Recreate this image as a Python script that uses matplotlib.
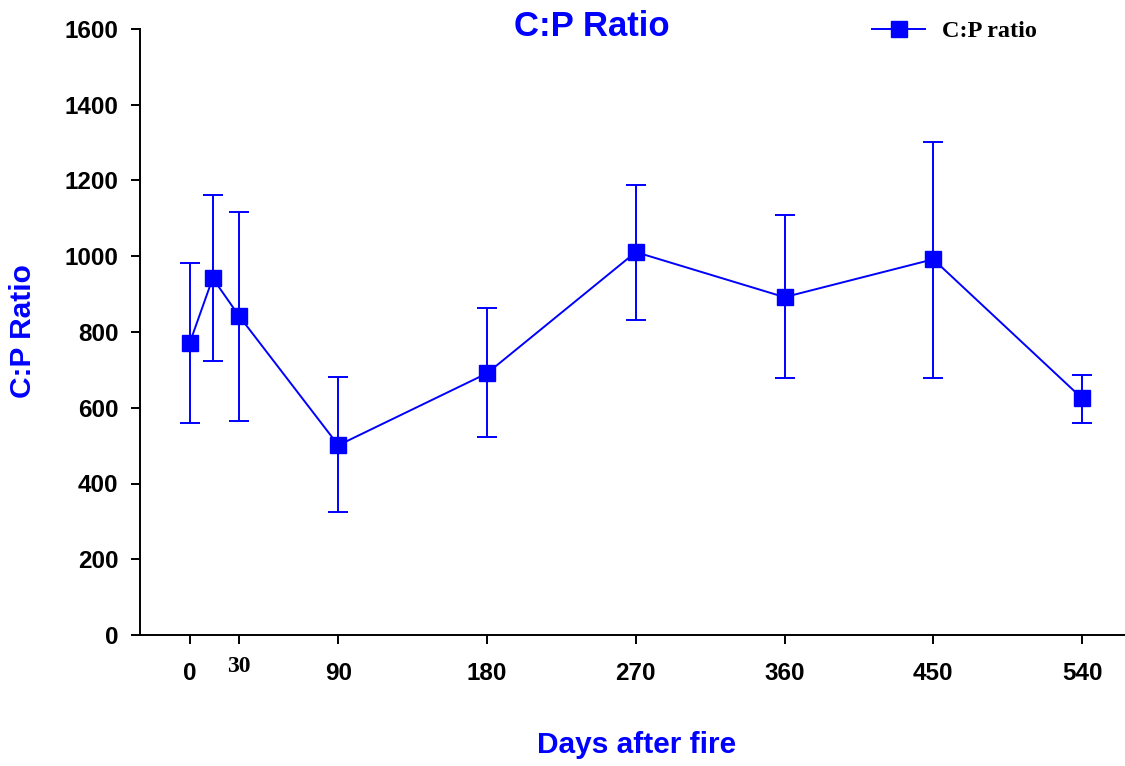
import matplotlib
matplotlib.use("Agg")
import matplotlib.pyplot as plt
from matplotlib.lines import Line2D

# data
days = [0, 14, 30, 90, 180, 270, 360, 450, 540]
cp_ratio = [770, 942, 842, 501, 691, 1011, 892, 992, 625]
err_low = [560, 723, 565, 325, 522, 831, 678, 678, 559]
err_high = [982, 1161, 1117, 681, 863, 1187, 1108, 1302, 687]

xticks = [0, 30, 90, 180, 270, 360, 450, 540]
yticks = [0, 200, 400, 600, 800, 1000, 1200, 1400, 1600]

blue = "#0000FF"
sans = "Liberation Sans"
serif = "Liberation Serif"

W, H = 1125, 766
fig = plt.figure(figsize=(W / 100, H / 100), dpi=100)
ax = fig.add_axes([140 / W, 1 - 635 / H, 1 - 140 / W, (635 - 29) / H])

yerr = [[v - lo for v, lo in zip(cp_ratio, err_low)],
        [hi - v for v, hi in zip(cp_ratio, err_high)]]
ax.errorbar(days, cp_ratio, yerr=yerr, color=blue, lw=1.4, elinewidth=1.4,
            capsize=7, capthick=1.4, marker="s", markersize=11)

ax.set_xlim(-30, 566)
ax.set_ylim(0, 1600)
ax.set_xticks(xticks)
ax.set_yticks(yticks)
ax.set_yticklabels([str(t) for t in yticks], fontfamily=sans,
                   fontweight="bold", fontsize=17.5)
labels = ax.set_xticklabels([str(t) for t in xticks], fontfamily=sans,
                            fontweight="bold", fontsize=17.5)
# the 30 label is set in a serif face, a little higher than the others
labels[1].set_fontfamily(serif)
labels[1].set_fontsize(17)
labels[1].set_y(0.01)

ax.tick_params(direction="out", length=6.5, width=1.4)
ax.tick_params(axis="y", pad=9)
ax.tick_params(axis="x", pad=13)
for s in ["top", "right"]:
    ax.spines[s].set_visible(False)
for s in ["left", "bottom"]:
    ax.spines[s].set_linewidth(1.4)

fig.text(592 / W, 1 - 27 / H, "C:P Ratio", color=blue, fontfamily=sans,
         fontweight="bold", fontsize=25, ha="center", va="center")
fig.text(637 / W, 1 - 745 / H, "Days after fire", color=blue,
         fontfamily=sans, fontweight="bold", fontsize=21.5,
         ha="center", va="center")
fig.text(23 / W, 1 - 331 / H, "C:P Ratio", color=blue, fontfamily=sans,
         fontweight="bold", fontsize=21.5, ha="center", va="center",
         rotation=90)

handle = Line2D([], [], color=blue, lw=1.4, marker="s", markersize=11)
fig.legend(handles=[handle], labels=["C:P ratio"], loc="center left",
           bbox_to_anchor=(872 / W, 1 - 31 / H), frameon=False,
           borderpad=0, borderaxespad=0, handlelength=2.2,
           handletextpad=0.68,
           prop={"family": serif, "weight": "bold", "size": 17.5})

fig.savefig("out.png", dpi=100)
